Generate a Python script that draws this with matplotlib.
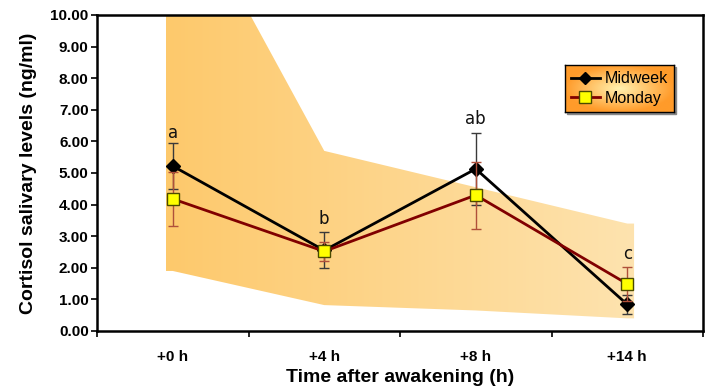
import numpy as np
import matplotlib
matplotlib.use("Agg")
import matplotlib.pyplot as plt
from matplotlib.colors import LinearSegmentedColormap, to_rgb
from matplotlib.lines import Line2D
from matplotlib.patches import Rectangle

# data
times = ["+0 h", "+4 h", "+8 h", "+14 h"]
midweek = [5.22, 2.55, 5.13, 0.84]
midweek_err = [0.72, 0.57, 1.15, 0.29]
monday = [4.18, 2.52, 4.30, 1.49]
monday_err = [0.86, 0.30, 1.06, 0.55]
letters = ["a", "b", "ab", "c"]
letter_y = [6.28, 3.54, 6.70, 2.43]
band_upper = [14.5, 5.70, 4.55, 3.40]
band_lower = [1.90, 0.82, 0.65, 0.40]

plt.rcParams['font.family'] = ['Liberation Sans', 'DejaVu Sans']

fig = plt.figure(figsize=(7.09, 3.87), dpi=100)
ax = fig.add_axes([97/709, 1-331/387, (703-97)/709, (331-15)/387])

x = np.arange(len(times))

# shaded range band with a left-to-right gradient
pad = 0.045
bx = np.r_[x[0]-pad, x, x[-1]+pad]
bu = np.r_[band_upper[0], band_upper, band_upper[-1]]
bl = np.r_[band_lower[0], band_lower, band_lower[-1]]
poly = ax.fill_between(bx, bl, bu, color='none', lw=0)
cmap = LinearSegmentedColormap.from_list('band', ['#FDC96C', '#FEE3AF'])
grad = np.linspace(0, 1, 256).reshape(1, -1)
im = ax.imshow(grad, cmap=cmap, aspect='auto',
               extent=[bx[0], bx[-1], 0, 15], zorder=1)
im.set_clip_path(poly.get_paths()[0], transform=ax.transData)

ax.errorbar(x, midweek, yerr=midweek_err, color='black', lw=2,
            marker='D', ms=7, mfc='black', mec='black',
            ecolor='#3a3a3a', elinewidth=1, capsize=3.5, capthick=1, zorder=3)
ax.errorbar(x, monday, yerr=monday_err, color='#800000', lw=2,
            marker='s', ms=9, mfc='#FFFF00', mec='#4a4a00', mew=1,
            ecolor='#B0503A', elinewidth=1, capsize=3.5, capthick=1, zorder=4)

for xi, t, ty in zip(x, letters, letter_y):
    ax.text(xi, ty, t, ha='center', va='center', fontsize=12,
            family='DejaVu Sans', color='#111111', zorder=5)

ax.set_xlim(-0.5, len(times)-0.5)
ax.set_ylim(0, 10)
ax.set_yticks(np.arange(0, 10.01, 1))
ax.set_yticklabels(["%.2f" % v for v in np.arange(0, 10.01, 1)],
                   fontsize=11, fontweight='bold')
ax.set_xticks(x)
ax.set_xticklabels(times, fontsize=11, fontweight='bold')
ax.set_xticks(np.arange(-0.5, len(times), 1), minor=True)
ax.tick_params(axis='x', which='major', length=0, pad=14)
ax.tick_params(axis='x', which='minor', length=4, width=1.2, direction='out')
ax.tick_params(axis='y', length=4, width=1.2, direction='out', pad=2)
for s in ax.spines.values():
    s.set_linewidth(1.8)
ax.set_xlabel("Time after awakening (h)", fontsize=14, fontweight='bold',
              labelpad=3)
ax.set_ylabel("Cortisol salivary levels (ng/ml)", fontsize=14,
              fontweight='bold', labelpad=10)

# legend box with radial gradient
lx0, ly0, lw_, lh_ = 565/709, 1-112/387, (674-565)/709, (112-65)/387
shadow = Rectangle((lx0+2/709, ly0-2/387), lw_, lh_,
                   transform=fig.transFigure, color='#888888', zorder=4)
fig.patches.append(shadow)
lax = fig.add_axes([lx0, ly0, lw_, lh_])
lax.set_zorder(6)
yy, xx = np.mgrid[-1:1:100j, -1:1:200j]
r = np.clip(np.sqrt(xx**2 + yy**2), 0, 1)[..., None]
c_in = np.array(to_rgb('#FFF2B0'))
c_out = np.array(to_rgb('#FF9B2A'))
lax.imshow(c_in*(1-r) + c_out*r, extent=[0, 1, 0, 1], aspect='auto')
lax.set_xticks([])
lax.set_yticks([])
for s in lax.spines.values():
    s.set_linewidth(1)
handles = [Line2D([], [], color='black', lw=2, marker='D', ms=6,
                  mfc='black', mec='black'),
           Line2D([], [], color='#800000', lw=2, marker='s', ms=8,
                  mfc='#FFFF00', mec='#4a4a00')]
lax.legend(handles, ["Midweek", "Monday"], loc='center', frameon=False,
           fontsize=11.5, handlelength=1.8, handletextpad=0.3,
           labelspacing=0.3, borderaxespad=0, borderpad=0.1)

fig.savefig("out.png", dpi=100)
